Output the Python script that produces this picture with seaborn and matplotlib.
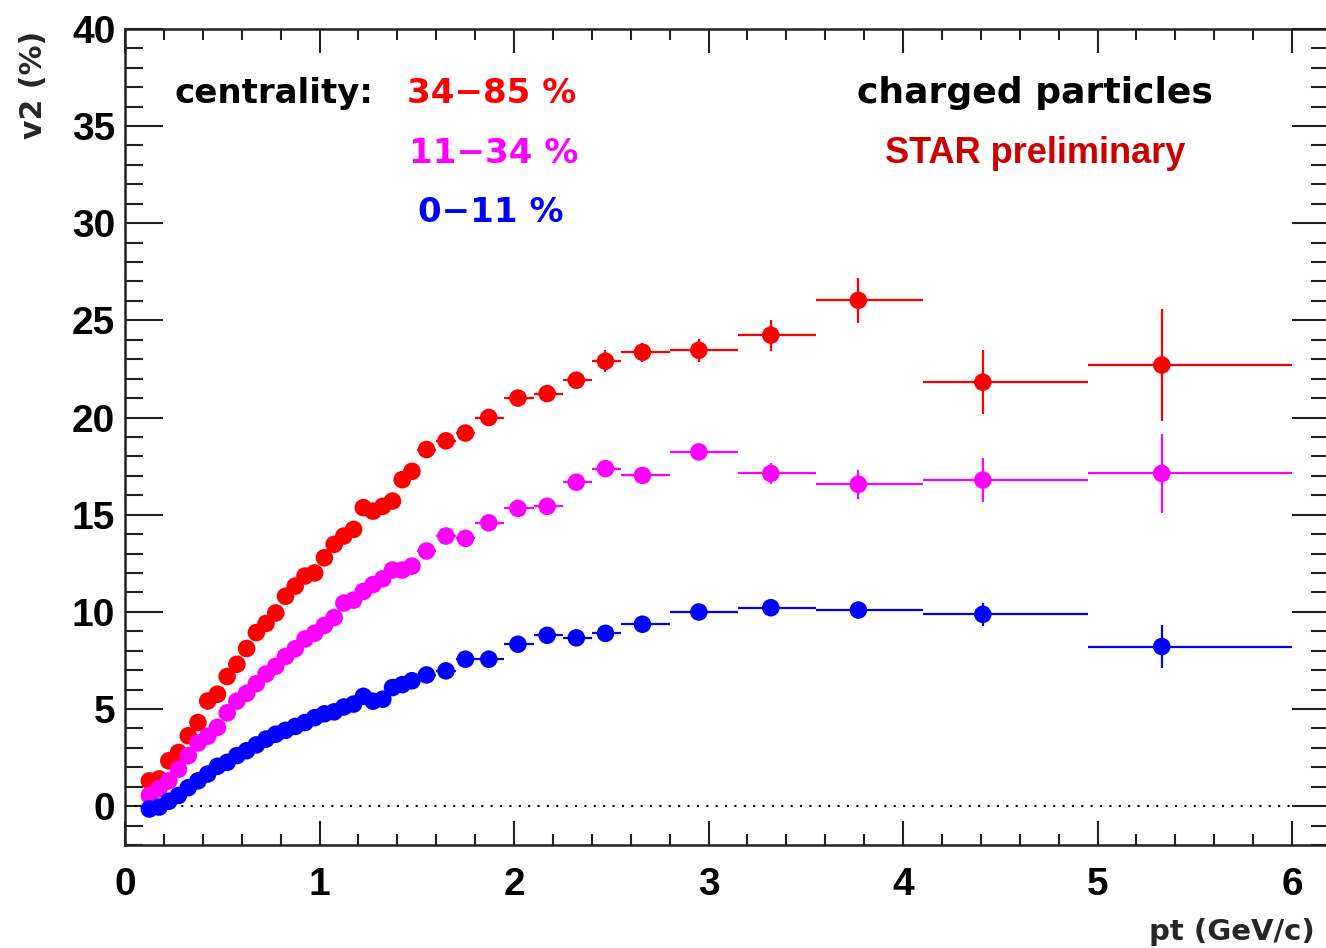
import matplotlib
matplotlib.use("Agg")
import numpy as np
import pandas as pd
import matplotlib.pyplot as plt
from matplotlib.ticker import MultipleLocator
import seaborn as sns

# pt of each point and the bin edges (GeV/c)
pt = [0.125, 0.175, 0.225, 0.275, 0.325, 0.375, 0.425, 0.475, 0.525, 0.575,
      0.625, 0.675, 0.725, 0.775, 0.825, 0.875, 0.925, 0.975, 1.025, 1.075,
      1.125, 1.175, 1.225, 1.275, 1.325, 1.375, 1.425, 1.475,
      1.55, 1.65, 1.75, 1.87, 2.02, 2.17, 2.32, 2.47, 2.66, 2.95, 3.32,
      3.77, 4.41, 5.33]
pt_edges = [0.10, 0.15, 0.20, 0.25, 0.30, 0.35, 0.40, 0.45, 0.50, 0.55,
            0.60, 0.65, 0.70, 0.75, 0.80, 0.85, 0.90, 0.95, 1.00, 1.05,
            1.10, 1.15, 1.20, 1.25, 1.30, 1.35, 1.40, 1.45, 1.50,
            1.60, 1.70, 1.80, 1.95, 2.10, 2.25, 2.40, 2.55, 2.80, 3.15,
            3.55, 4.10, 4.95, 6.00]

# v2 (%) for the three centrality classes
v2_34_85 = [1.30, 1.40, 2.33, 2.76, 3.62, 4.30, 5.41, 5.76, 6.67, 7.30,
            8.11, 8.93, 9.40, 9.94, 10.80, 11.32, 11.84, 12.00, 12.78, 13.47,
            13.90, 14.24, 15.36, 15.18, 15.43, 15.70, 16.80, 17.23,
            18.35, 18.80, 19.20, 20.00, 21.00, 21.23, 21.92, 22.90, 23.36, 23.46, 24.24,
            26.03, 21.82, 22.70]
err_34_85 = [0.20, 0.20, 0.20, 0.20, 0.20, 0.20, 0.20, 0.20, 0.20, 0.20,
             0.20, 0.20, 0.20, 0.20, 0.20, 0.20, 0.20, 0.20, 0.20, 0.20,
             0.20, 0.20, 0.20, 0.20, 0.20, 0.20, 0.20, 0.20,
             0.25, 0.25, 0.25, 0.30, 0.30, 0.30, 0.35, 0.55, 0.50, 0.60, 0.80,
             1.15, 1.65, 2.90]

v2_11_34 = [0.55, 0.90, 1.30, 1.90, 2.60, 3.25, 3.60, 4.05, 4.80, 5.40,
            5.80, 6.30, 6.80, 7.20, 7.70, 8.10, 8.60, 8.90, 9.30, 9.70,
            10.45, 10.60, 11.05, 11.40, 11.70, 12.15, 12.15, 12.35,
            13.13, 13.90, 13.78, 14.58, 15.32, 15.43, 16.67, 17.37, 17.02, 18.23, 17.12,
            16.56, 16.78, 17.12]
err_11_34 = [0.15, 0.15, 0.15, 0.15, 0.15, 0.15, 0.15, 0.15, 0.15, 0.15,
             0.15, 0.15, 0.15, 0.15, 0.15, 0.15, 0.15, 0.15, 0.15, 0.15,
             0.15, 0.15, 0.15, 0.15, 0.15, 0.15, 0.15, 0.15,
             0.20, 0.20, 0.20, 0.25, 0.25, 0.25, 0.30, 0.35, 0.35, 0.30, 0.55,
             0.75, 1.15, 2.05]

v2_0_11 = [-0.15, -0.05, 0.25, 0.55, 0.95, 1.30, 1.65, 2.05, 2.25, 2.60,
           2.85, 3.15, 3.45, 3.70, 3.90, 4.10, 4.30, 4.55, 4.75, 4.85,
           5.10, 5.25, 5.65, 5.40, 5.50, 6.10, 6.25, 6.45,
           6.75, 6.96, 7.56, 7.56, 8.33, 8.79, 8.66, 8.89, 9.36, 9.99, 10.21,
           10.09, 9.87, 8.21]
err_0_11 = [0.12, 0.12, 0.12, 0.12, 0.12, 0.12, 0.12, 0.12, 0.12, 0.12,
            0.12, 0.12, 0.12, 0.12, 0.12, 0.12, 0.12, 0.12, 0.12, 0.12,
            0.12, 0.12, 0.12, 0.12, 0.12, 0.12, 0.12, 0.12,
            0.15, 0.15, 0.15, 0.20, 0.20, 0.20, 0.25, 0.25, 0.25, 0.25, 0.25,
            0.30, 0.60, 1.10]

classes = ["34-85 %", "11-34 %", "0-11 %"]
labels = ["34\u221285 %", "11\u221234 %", "0\u221211 %"]
colors = {"34-85 %": "#ff0000", "11-34 %": "#ff00ff", "0-11 %": "#0000ff"}
series = {"34-85 %": (v2_34_85, err_34_85),
          "11-34 %": (v2_11_34, err_11_34),
          "0-11 %": (v2_0_11, err_0_11)}

# long table for seaborn
frames = []
for c in classes:
    v, e = series[c]
    frames.append(pd.DataFrame({"pt": pt, "v2": v, "err": e, "centrality": c}))
df = pd.concat(frames, ignore_index=True)

sns.set_theme(style="ticks")
plt.rcParams["font.family"] = ["DejaVu Sans"]
plt.rcParams["font.weight"] = "bold"

fig = plt.figure(figsize=(13.26, 9.48), dpi=100)
ax = fig.add_axes([0.0943, 0.1087, 0.908, 0.8608])

edges = np.array(pt_edges)
x = np.array(pt)
xlo = x - edges[:-1]
xhi = edges[1:] - x

ax.plot([0, 6], [0, 0], color="black", lw=1.5, ls=(0, (1, 3.5)), zorder=1)

for c in classes:
    d = df[df["centrality"] == c]
    ax.errorbar(d["pt"], d["v2"], xerr=[xlo, xhi], yerr=d["err"], fmt="none",
                ecolor=colors[c], elinewidth=1.6, capsize=0, zorder=2)

sns.scatterplot(data=df, x="pt", y="v2", hue="centrality", palette=colors,
                s=160, linewidth=0, legend=False, ax=ax, zorder=3)

ax.set_xlim(0, 6.19)
ax.set_ylim(-2, 40)
ax.xaxis.set_major_locator(MultipleLocator(1))
ax.xaxis.set_minor_locator(MultipleLocator(0.2))
ax.yaxis.set_major_locator(MultipleLocator(5))
ax.yaxis.set_minor_locator(MultipleLocator(1))
ax.tick_params(which="both", direction="in", top=True, right=True, width=1.5,
               colors="#222222")
ax.tick_params(axis="x", which="major", length=17, pad=16)
ax.tick_params(axis="x", which="minor", length=8)
ax.tick_params(axis="y", which="major", length=27, pad=7)
ax.tick_params(axis="y", which="minor", length=13)
for lab in ax.get_xticklabels() + ax.get_yticklabels():
    lab.set_fontfamily("Liberation Sans")
    lab.set_fontweight("bold")
    lab.set_fontsize(28)
    lab.set_color("black")
for sp in ax.spines.values():
    sp.set_linewidth(1.8)
    sp.set_color("#222222")
ax.set_xlabel("")
ax.set_ylabel("")

# axis titles, ROOT style at the ends of the axes
fig.text(1315 / 1326, 1 - 940 / 948, "pt (GeV/c)", ha="right", va="baseline",
         fontsize=21, fontweight="bold")
fig.text(34 / 1326, 1 - 31 / 948, "v2 (%)", ha="center", va="top",
         rotation=90, fontsize=21.5, fontweight="bold")

# legend texts
fig.text(174 / 1326, 1 - 103 / 948, "centrality:", ha="left", va="baseline",
         fontsize=24.5, fontweight="bold", color="black")
ys = [103, 163, 222]
xs = [492, 494, 491]
for c, lab, yy, xx in zip(classes, labels, ys, xs):
    fig.text(xx / 1326, 1 - yy / 948, lab, ha="center", va="baseline",
             fontsize=24.5, fontweight="bold", color=colors[c])

fig.text(1035 / 1326, 1 - 103 / 948, "charged particles", ha="center",
         va="baseline", fontsize=26, fontweight="bold", color="black")
fig.text(1035 / 1326, 1 - 163 / 948, "STAR preliminary", ha="center",
         va="baseline", fontsize=26, fontweight="bold", color="#cc0000",
         family="Liberation Sans")

fig.savefig("out.png", dpi=100)
